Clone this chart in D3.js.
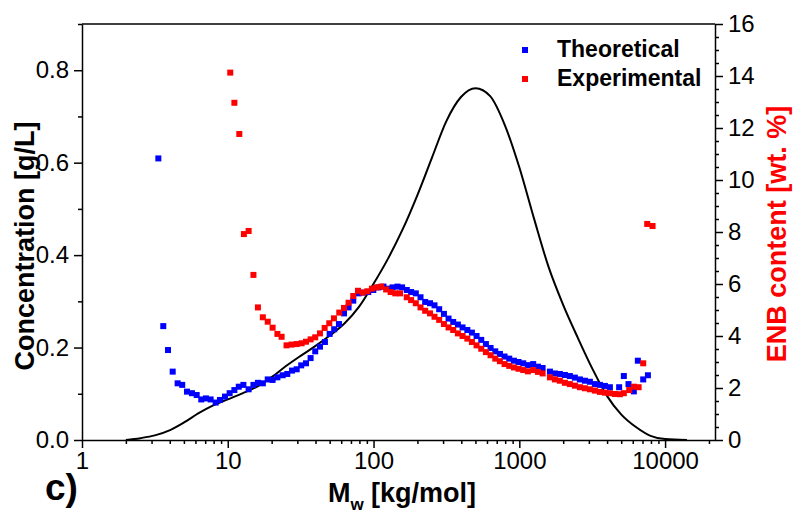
<!DOCTYPE html>
<html>
<head>
<meta charset="utf-8">
<script src="https://cdn.jsdelivr.net/npm/d3@7.9.0/dist/d3.min.js"></script>
<style>
  body { margin: 0; background: #fff; }
  svg { display: block; font-family: "Liberation Sans", Arial, sans-serif; }
  .axis path, .axis line { stroke: #000; stroke-width: 1.5; }
  .axis text { font-size: 24px; fill: #000; }
</style>
</head>
<body>
<div id="chart"></div>
<script>
// GPC curve (left axis, g/L)
const curveMw = [2.0, 2.51, 3.16, 3.98, 5.01, 6.31, 7.94, 10, 12.6, 15.8, 20, 25.1, 31.6, 39.8, 50.1, 63.1, 79.4, 100, 126, 158, 200, 251, 316, 398, 501, 631, 794, 1000, 1259, 1585, 1995, 2512, 3162, 3981, 5012, 6310, 7943, 10000, 14125];
const curveConc = [0, 0.004, 0.010, 0.021, 0.038, 0.058, 0.075, 0.088, 0.101, 0.115, 0.136, 0.160, 0.182, 0.203, 0.226, 0.252, 0.288, 0.338, 0.393, 0.455, 0.530, 0.610, 0.690, 0.742, 0.761, 0.744, 0.682, 0.590, 0.480, 0.375, 0.293, 0.222, 0.155, 0.096, 0.055, 0.028, 0.009, 0.002, 0];

// Theoretical ENB content (right axis, wt. %)
const theoMw = [3.34, 3.61, 3.89, 4.19, 4.53, 4.87, 5.25, 5.68, 6.12, 6.58, 7.08, 7.63, 8.26, 8.84, 9.57, 10.3, 11.1, 11.9, 12.8, 13.9, 15.0, 16.1, 17.4, 18.8, 20.3, 21.9, 23.8, 25.6, 27.6, 29.7, 31.9, 34.4, 37.0, 39.8, 42.9, 46.4, 50.0, 53.7, 57.9, 62.7, 67.4, 72.6, 79.0, 85.0, 92.0, 99.6, 108, 117, 126, 135, 146, 157, 169, 181, 195, 210, 226, 244, 262, 282, 304, 327, 352, 379, 408, 440, 473, 509, 548, 590, 635, 684, 736, 792, 853, 918, 988, 1064, 1145, 1245, 1342, 1445, 1622, 1754, 1897, 2054, 2222, 2405, 2604, 2818, 3049, 3300, 3572, 3865, 4182, 4840, 5212, 5611, 6104, 6504, 7078, 7625];
const theoWt = [10.83, 4.38, 3.46, 2.63, 2.18, 2.12, 1.86, 1.8, 1.73, 1.56, 1.6, 1.56, 1.44, 1.54, 1.67, 1.8, 1.92, 2.05, 2.12, 1.95, 2.12, 2.2, 2.18, 2.33, 2.31, 2.41, 2.49, 2.54, 2.67, 2.72, 2.87, 2.95, 3.15, 3.41, 3.59, 3.77, 4.08, 4.26, 4.46, 4.87, 5.1, 5.36, 5.64, 5.67, 5.69, 5.77, 5.87, 5.9, 5.82, 5.87, 5.9, 5.87, 5.77, 5.69, 5.64, 5.49, 5.31, 5.26, 5.18, 5.03, 4.85, 4.67, 4.54, 4.44, 4.33, 4.23, 4.13, 4.0, 3.85, 3.69, 3.54, 3.41, 3.31, 3.21, 3.13, 3.05, 3.0, 2.95, 2.88, 2.92, 2.82, 2.77, 2.63, 2.56, 2.54, 2.5, 2.46, 2.4, 2.33, 2.28, 2.24, 2.15, 2.12, 2.08, 2.03, 2.03, 2.46, 2.15, 1.87, 3.05, 2.33, 2.49];

// Experimental ENB content (right axis, wt. %)
const expMw = [10.4, 11.1, 12.0, 12.9, 13.9, 15.0, 16.1, 17.4, 18.8, 20.3, 21.9, 23.4, 25.3, 27.4, 29.7, 32.1, 34.4, 37.0, 39.8, 42.9, 46.2, 49.7, 53.5, 58.2, 62.7, 67.4, 72.6, 78.2, 84.2, 90.6, 97.5, 105, 113, 122, 131, 141, 152, 169, 181, 195, 210, 226, 244, 262, 282, 304, 327, 352, 379, 408, 440, 473, 509, 548, 590, 635, 684, 736, 792, 853, 918, 988, 1064, 1145, 1245, 1342, 1445, 1622, 1754, 1897, 2054, 2222, 2405, 2604, 2818, 3049, 3300, 3572, 3865, 4182, 4525, 4897, 5212, 5675, 6104, 6582, 7078, 7540, 8204];
const expWt = [14.13, 12.97, 11.77, 7.92, 8.04, 6.35, 5.1, 4.72, 4.55, 4.32, 4.08, 3.97, 3.64, 3.67, 3.69, 3.72, 3.78, 3.87, 3.95, 4.1, 4.31, 4.49, 4.68, 4.9, 5.08, 5.28, 5.54, 5.74, 5.67, 5.72, 5.82, 5.87, 5.9, 5.79, 5.69, 5.64, 5.64, 5.49, 5.38, 5.26, 5.1, 4.97, 4.87, 4.74, 4.62, 4.46, 4.33, 4.23, 4.1, 4.0, 3.9, 3.77, 3.64, 3.51, 3.38, 3.26, 3.13, 3.03, 2.92, 2.85, 2.79, 2.74, 2.69, 2.64, 2.69, 2.62, 2.56, 2.41, 2.33, 2.28, 2.2, 2.15, 2.09, 2.03, 1.99, 1.95, 1.9, 1.85, 1.82, 1.8, 1.77, 1.76, 1.8, 1.92, 2.05, 2.03, 2.95, 8.31, 8.23];

const xTicks = [1, 10, 100, 1000, 10000];
const leftTicks = [0, 0.2, 0.4, 0.6, 0.8];
const rightTicks = [0, 2, 4, 6, 8, 10, 12, 14, 16];

const width = 802;
const height = 517;
const area = { left: 82, right: 715, top: 24, bottom: 440 };

const svg = d3.select('#chart')
  .append('svg')
  .attr('width', width)
  .attr('height', height);

const x = d3.scaleLog().domain([1, 22000]).range([area.left, area.right]);
const yL = d3.scaleLinear().domain([0, 0.9]).range([area.bottom, area.top]);
const yR = d3.scaleLinear().domain([0, 16]).range([area.bottom, area.top]);

// minor ticks
const xMinor = [];
for (let p = 1; p <= 10000; p *= 10) {
  for (let m = 2; m <= 9; m++) if (p * m <= 22000) xMinor.push(p * m);
}
const leftMinor = d3.range(0.1, 0.95, 0.2);
const rightMinor = d3.range(0.5, 16, 0.5).filter(d => d % 2 !== 0);

// frame (top line)
svg.append('line')
  .attr('x1', area.left).attr('x2', area.right)
  .attr('y1', area.top).attr('y2', area.top)
  .attr('stroke', '#000').attr('stroke-width', 1.5);

// bottom axis
svg.append('g').attr('class', 'axis')
  .attr('transform', `translate(0,${area.bottom})`)
  .call(d3.axisBottom(x).tickValues(xMinor).tickSize(4).tickFormat(''))
  .call(g => g.select('.domain').remove());
svg.append('g').attr('class', 'axis')
  .attr('transform', `translate(0,${area.bottom})`)
  .call(d3.axisBottom(x).tickValues(xTicks).tickSize(8).tickSizeOuter(0).tickPadding(4).tickFormat(d3.format('d')));

// left axis
svg.append('g').attr('class', 'axis')
  .attr('transform', `translate(${area.left},0)`)
  .call(d3.axisLeft(yL).tickValues(leftMinor).tickSize(4).tickFormat(''))
  .call(g => g.select('.domain').remove());
svg.append('g').attr('class', 'axis')
  .attr('transform', `translate(${area.left},0)`)
  .call(d3.axisLeft(yL).tickValues(leftTicks).tickSize(8).tickSizeOuter(0).tickPadding(5).tickFormat(d3.format('.1f')));

// right axis
svg.append('g').attr('class', 'axis')
  .attr('transform', `translate(${area.right},0)`)
  .call(d3.axisRight(yR).tickValues(rightMinor).tickSize(4).tickFormat(''))
  .call(g => g.select('.domain').remove());
svg.append('g').attr('class', 'axis')
  .attr('transform', `translate(${area.right},0)`)
  .call(d3.axisRight(yR).tickValues(rightTicks).tickSize(8).tickSizeOuter(0).tickPadding(5));

// black concentration curve
const line = d3.line()
  .x(d => x(d[0]))
  .y(d => yL(d[1]))
  .curve(d3.curveMonotoneX);

svg.append('path')
  .datum(d3.zip(curveMw, curveConc))
  .attr('d', line)
  .attr('fill', 'none')
  .attr('stroke', '#000')
  .attr('stroke-width', 2);

// squares
const sq = 6;
function drawSquares(mw, wt, color) {
  svg.append('g')
    .selectAll('rect')
    .data(d3.zip(mw, wt))
    .join('rect')
    .attr('x', d => x(d[0]) - sq / 2)
    .attr('y', d => yR(d[1]) - sq / 2)
    .attr('width', sq)
    .attr('height', sq)
    .attr('fill', color);
}
drawSquares(theoMw, theoWt, '#0000ff');
drawSquares(expMw, expWt, '#ff0000');

// legend
const legend = [['Theoretical', '#0000ff'], ['Experimental', '#ff0000']];
legend.forEach(([name, color], i) => {
  const ly = 50 + i * 29;
  svg.append('rect')
    .attr('x', 522).attr('y', ly - 3)
    .attr('width', sq).attr('height', sq)
    .attr('fill', color);
  svg.append('text')
    .attr('x', 557).attr('y', ly + 7)
    .attr('font-size', 23)
    .attr('font-weight', 'bold')
    .text(name);
});

// axis titles
svg.append('text')
  .attr('transform', `translate(34,${(area.top + area.bottom) / 2 + 14}) rotate(-90)`)
  .attr('text-anchor', 'middle')
  .attr('font-size', 27)
  .attr('font-weight', 'bold')
  .text('Concentration [g/L]');

svg.append('text')
  .attr('transform', `translate(786,${(area.top + area.bottom) / 2 + 2}) rotate(-90)`)
  .attr('text-anchor', 'middle')
  .attr('font-size', 27)
  .attr('font-weight', 'bold')
  .attr('fill', '#ff0000')
  .text('ENB content [wt. %]');

const xt = svg.append('text')
  .attr('x', 402).attr('y', 502)
  .attr('text-anchor', 'middle')
  .attr('font-size', 27)
  .attr('font-weight', 'bold');
xt.append('tspan').text('M');
xt.append('tspan').attr('font-size', 17).attr('dy', 8).text('w');
xt.append('tspan').attr('dy', -8).text(' [kg/mol]');

svg.append('text')
  .attr('x', 45).attr('y', 500)
  .attr('font-size', 37)
  .attr('font-weight', 'bold')
  .text('c)');
</script>
</body>
</html>
